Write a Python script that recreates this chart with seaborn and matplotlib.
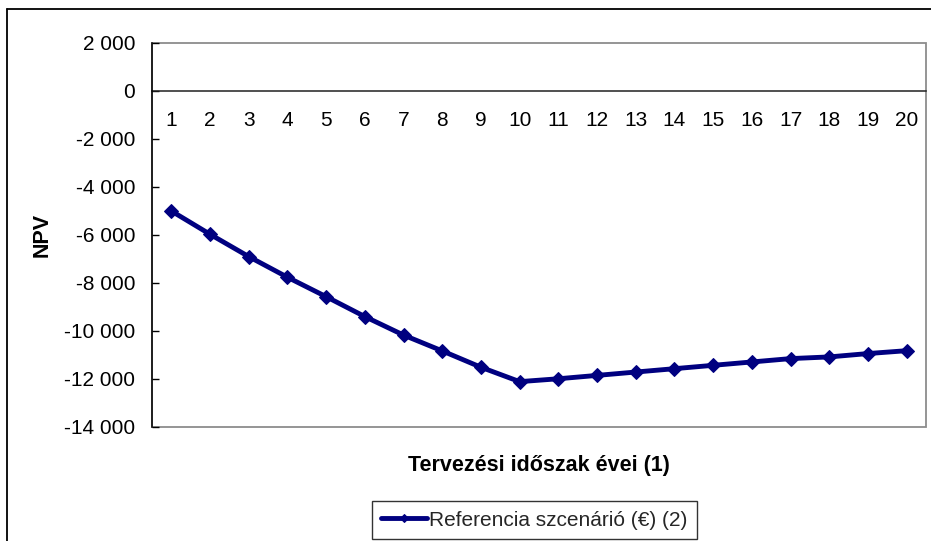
import matplotlib
matplotlib.use("Agg")
import matplotlib.pyplot as plt
from matplotlib.lines import Line2D
from matplotlib.patches import Rectangle
import seaborn as sns
import pandas as pd

years = list(range(1, 21))
npv = [-5000, -5970, -6900, -7760, -8570, -9400, -10170, -10830, -11510, -12110,
       -11990, -11850, -11710, -11570, -11430, -11290, -11150, -11080, -10940, -10820]
series_name = "Referencia szcenárió (€) (2)"
y_ticks = [2000, 0, -2000, -4000, -6000, -8000, -10000, -12000, -14000]
x_label = "Tervezési időszak évei (1)"
y_label = "NPV"

sns.set_style("white")
plt.rcParams['font.family'] = ['Liberation Sans', 'DejaVu Sans']
plt.rcParams['axes.unicode_minus'] = False

df = pd.DataFrame({"year": years, "npv": npv, "series": series_name})

fig = plt.figure(figsize=(9.31, 5.41), dpi=100)
ax = fig.add_axes([152/931, 1-427/541, (926-152)/931, (427-43)/541])

sns.lineplot(data=df, x="year", y="npv", hue="series", palette=["#000080"],
             marker="D", markersize=7, linewidth=3.5, markeredgecolor="#000080",
             ax=ax, legend=True)

ax.set_xlim(0.5, 20.5)
ax.set_ylim(-14000, 2000)

# plot-area border (grey)
for s in ["top", "right", "left"]:
    ax.spines[s].set_visible(False)
ax.add_patch(Rectangle((0, 0), 1, 1, transform=ax.transAxes, fill=False,
                       edgecolor="#8c8c8c", linewidth=1.3, zorder=0.5, clip_on=False))
ax.spines["left"].set_visible(True)
ax.spines["left"].set_color("black")
ax.spines["left"].set_linewidth(1.1)
ax.spines["left"].set_zorder(3)

# x axis at zero
ax.spines["bottom"].set_position(("data", 0))
ax.spines["bottom"].set_color("#202020")
ax.spines["bottom"].set_linewidth(1.1)

bounds = [y - 0.5 for y in years] + [20.5]
ax.set_xticks(bounds)
ax.set_xticklabels([""] * len(bounds))
ax.set_xticks(years, minor=True)
ax.set_xticklabels([str(y) for y in years], minor=True)
ax.tick_params(axis="x", which="major", direction="out", length=5, width=1, color="black")
ax.tick_params(axis="x", which="minor", length=0, pad=14.5, labelsize=15, labelcolor="black")

ax.set_yticks(y_ticks)
ax.set_yticklabels([f"{v:,}".replace(",", " ") for v in y_ticks])
ax.tick_params(axis="y", direction="in", length=5, width=1, color="black",
               pad=12, labelsize=15, labelcolor="black", left=True)

ax.set_xlabel(x_label, fontsize=15.5, fontweight="bold", color="black")
ax.xaxis.label.set_va("center")
ax.xaxis.set_label_coords(0.5, (427-465)/384)
ax.set_ylabel(y_label, fontsize=15.5, fontweight="bold", color="black")
ax.yaxis.label.set_va("center")
ax.yaxis.set_label_coords((42-152)/774, 0.5)

leg = ax.legend(loc="lower center", bbox_to_anchor=(534.5/931, 2/541),
                bbox_transform=fig.transFigure, fontsize=15, frameon=True,
                fancybox=False, edgecolor="black", borderpad=0.45,
                handlelength=2.2, handletextpad=0.1, borderaxespad=0,
                markerscale=0.6)
leg.get_frame().set_linewidth(1.0)

# outer chart frame
fig.add_artist(Line2D([7/931, 7/931], [0, 1-9/541], transform=fig.transFigure,
                      color="black", linewidth=1.3))
fig.add_artist(Line2D([7/931, 1], [1-9/541, 1-9/541], transform=fig.transFigure,
                      color="black", linewidth=1.3))

fig.savefig("out.png", dpi=100)
